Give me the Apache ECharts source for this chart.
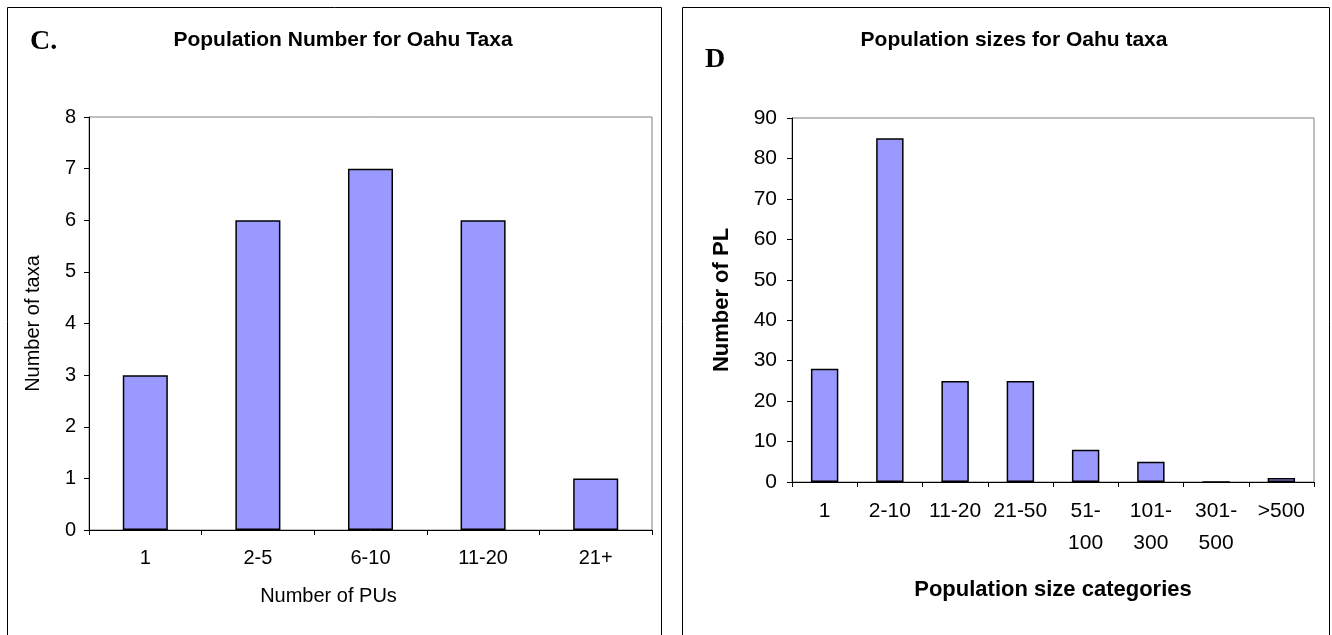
<!DOCTYPE html>
<html>
<head>
<meta charset="utf-8">
<script src="https://cdn.jsdelivr.net/npm/echarts@6/dist/echarts.min.js"></script>
<style>
  html, body { margin: 0; padding: 0; background: #fff; }
  #main { width: 1332px; height: 635px; }
</style>
</head>
<body>
<div id="main"></div>
<script>
// panel C
const puCategories = ['1', '2-5', '6-10', '11-20', '21+'];
const taxaCounts = [3, 6, 7, 6, 1];
// panel D
const sizeCategories = ['1', '2-10', '11-20', '21-50', '51-\n100', '101-\n300', '301-\n500', '>500'];
const plCounts = [28, 85, 25, 25, 8, 5, 0, 1];

const FONT = '"Liberation Sans", Arial, sans-serif';
const SERIF = '"Liberation Serif", "Times New Roman", serif';
const barColor = '#9999ff';

const myChart = echarts.init(document.getElementById('main'));

const axisLine = { show: true, lineStyle: { color: '#000', width: 1 } };
const axisTick = { show: true, length: 5, lineStyle: { color: '#000' } };
const txt = (size, bold) => ({ color: '#000', fontFamily: FONT, fontSize: size, fontWeight: bold ? 'bold' : 'normal' });

const option = {
  animation: false,
  backgroundColor: '#fff',
  title: [
    { text: 'Population Number for Oahu Taxa', left: 338, top: 25, textAlign: 'center', textStyle: txt(21, true) },
    { text: 'Population sizes for Oahu taxa', left: 1009, top: 25, textAlign: 'center', textStyle: txt(21, true) }
  ],
  graphic: [
    { type: 'rect', shape: { x: 7.5, y: 7.5, width: 654, height: 640 },
      style: { fill: 'none', stroke: '#000', lineWidth: 1 } },
    { type: 'rect', shape: { x: 682.5, y: 7.5, width: 647, height: 640 },
      style: { fill: 'none', stroke: '#000', lineWidth: 1 } },
    { type: 'text', left: 30, top: 28, style: { text: 'C.', font: 'bold 28px ' + SERIF, fill: '#000' } },
    { type: 'text', left: 705, top: 46, style: { text: 'D', font: 'bold 28px ' + SERIF, fill: '#000' } }
  ],
  grid: [
    { left: 89, top: 117, width: 563, height: 413, show: true, borderColor: '#808080', borderWidth: 1 },
    { left: 792, top: 118, width: 522, height: 364, show: true, borderColor: '#808080', borderWidth: 1 }
  ],
  xAxis: [
    {
      type: 'category', gridIndex: 0, data: puCategories,
      axisLine, axisTick,
      axisLabel: Object.assign(txt(20), { margin: 18 }),
      name: 'Number of PUs', nameLocation: 'middle', nameGap: 56,
      nameTextStyle: Object.assign(txt(20), { padding: [0, 84, 0, 0] })
    },
    {
      type: 'category', gridIndex: 1, data: sizeCategories,
      axisLine, axisTick,
      axisLabel: Object.assign(txt(21), { interval: 0, lineHeight: 32, margin: 13, verticalAlign: 'top' }),
      name: 'Population size categories', nameLocation: 'middle', nameGap: 97,
      nameTextStyle: txt(22, true)
    }
  ],
  yAxis: [
    {
      type: 'value', gridIndex: 0, min: 0, max: 8, interval: 1,
      axisLine, axisTick, splitLine: { show: false },
      axisLabel: Object.assign(txt(20), { margin: 13 }),
      name: 'Number of taxa', nameLocation: 'middle', nameGap: 46,
      nameTextStyle: txt(20)
    },
    {
      type: 'value', gridIndex: 1, min: 0, max: 90, interval: 10,
      axisLine, axisTick, splitLine: { show: false },
      axisLabel: Object.assign(txt(21), { margin: 15 }),
      name: 'Number of PL', nameLocation: 'middle', nameGap: 59,
      nameTextStyle: txt(22, true)
    }
  ],
  series: [
    {
      type: 'bar', xAxisIndex: 0, yAxisIndex: 0, data: taxaCounts, barWidth: '40%',
      itemStyle: { color: barColor, borderColor: '#000', borderWidth: 1.5 }
    },
    {
      type: 'bar', xAxisIndex: 1, yAxisIndex: 1, data: plCounts, barWidth: '42%',
      itemStyle: { color: barColor, borderColor: '#000', borderWidth: 1.5 }
    }
  ]
};

myChart.setOption(option);
</script>
</body>
</html>
